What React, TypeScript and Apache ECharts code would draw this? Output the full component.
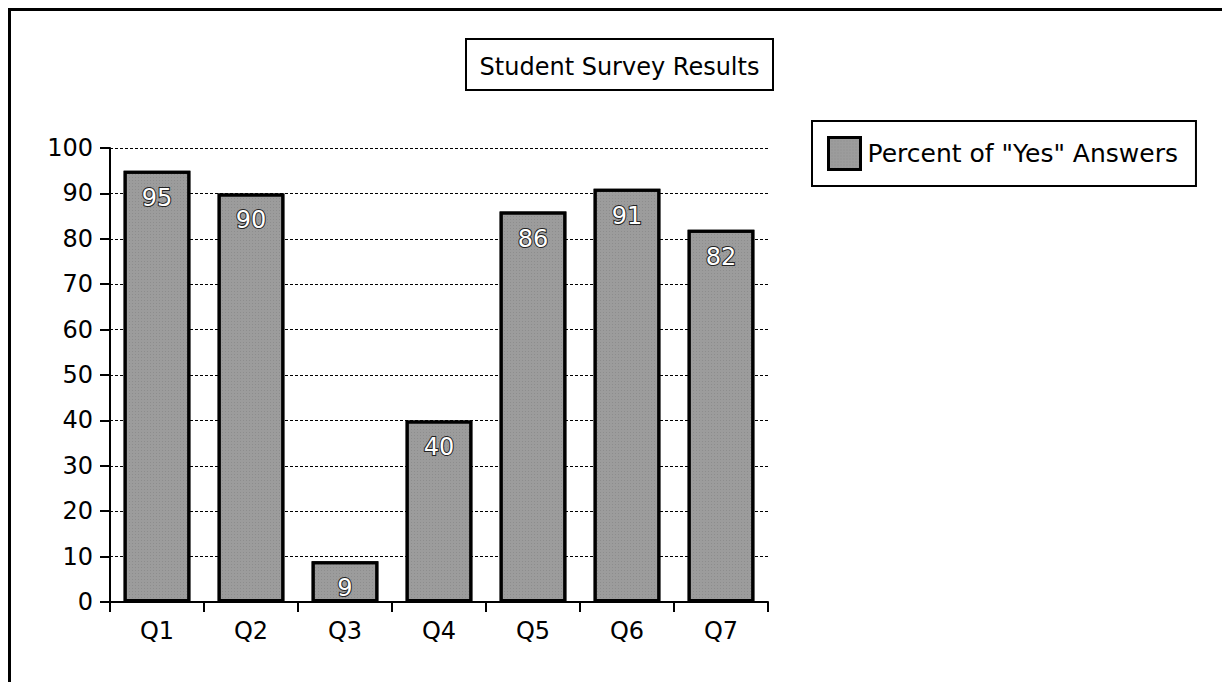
import React, { useEffect, useRef } from "react";
import * as echarts from "echarts";

const categories = ["Q1", "Q2", "Q3", "Q4", "Q5", "Q6", "Q7"];
const yesPercent = [95, 90, 9, 40, 86, 91, 82];
const seriesName = 'Percent of "Yes" Answers';
const chartTitle = "Student Survey Results";

const FONT = "DejaVu Sans";

export default function App() {
  const ref = useRef<HTMLDivElement>(null);
  useEffect(() => {
    document.body.style.margin = "0";
    const chart = echarts.init(ref.current!, null, { renderer: "svg" });
    chart.setOption({
      animation: false,
      backgroundColor: "#ffffff",
      textStyle: { fontFamily: FONT, color: "#000" },
      grid: { left: 110, right: 454, top: 148, bottom: 80 },
      graphic: [
        {
          type: "rect",
          shape: { x: 9.5, y: 9.5, width: 1240, height: 700 },
          style: { fill: "none", stroke: "#000", lineWidth: 3 },
        },
        {
          type: "rect",
          shape: { x: 466, y: 39, width: 307, height: 51 },
          style: { fill: "#fff", stroke: "#000", lineWidth: 2 },
        },
        {
          type: "text",
          x: 619.5,
          y: 67,
          style: {
            text: chartTitle,
            fontFamily: FONT,
            fontSize: 24,
            fill: "#000",
            align: "center",
            verticalAlign: "middle",
          },
        },
      ],
      legend: {
        left: 812,
        top: 121,
        orient: "horizontal",
        borderColor: "#000",
        borderWidth: 2,
        padding: [15, 18, 15, 15],
        itemWidth: 32,
        itemHeight: 32,
        itemGap: 10,
        textStyle: { fontFamily: FONT, fontSize: 25, color: "#000", padding: [0, 0, 0, 2] },
        icon: "rect",
        data: [
          {
            name: seriesName,
            itemStyle: { color: "#9c9c9c", borderColor: "#000", borderWidth: 3 },
          },
        ],
      },
      xAxis: {
        type: "category",
        data: categories,
        axisLine: { lineStyle: { color: "#000", width: 2 } },
        axisTick: { show: true, length: 10, lineStyle: { color: "#000", width: 2 } },
        axisLabel: { fontFamily: FONT, fontSize: 24, color: "#000", margin: 17 },
      },
      yAxis: {
        type: "value",
        min: 0,
        max: 100,
        interval: 10,
        axisLine: { show: true, lineStyle: { color: "#000", width: 2 } },
        axisTick: { show: true, length: 10, lineStyle: { color: "#000", width: 2 } },
        axisLabel: { fontFamily: FONT, fontSize: 24, color: "#000", margin: 17 },
        splitLine: { show: true, lineStyle: { color: "#000", width: 1, type: [3, 2] } },
      },
      series: [
        {
          name: seriesName,
          type: "bar",
          data: yesPercent,
          barWidth: "71%",
          itemStyle: {
            color: "#9c9c9c",
            borderColor: "#000",
            borderWidth: 3,
            decal: {
              symbol: "rect",
              symbolSize: 0.7,
              color: "rgba(30,30,30,0.35)",
              dashArrayX: [1, 2],
              dashArrayY: [1, 2],
              rotation: 0,
            },
          },
          label: {
            show: true,
            position: "insideTop",
            distance: 15,
            fontFamily: FONT,
            fontSize: 24,
            color: "#fff",
            textBorderColor: "#222",
            textBorderWidth: 2,
          },
        },
      ],
    });
    return () => chart.dispose();
  }, []);
  return <div ref={ref} style={{ width: 1222, height: 682 }} />;
}
